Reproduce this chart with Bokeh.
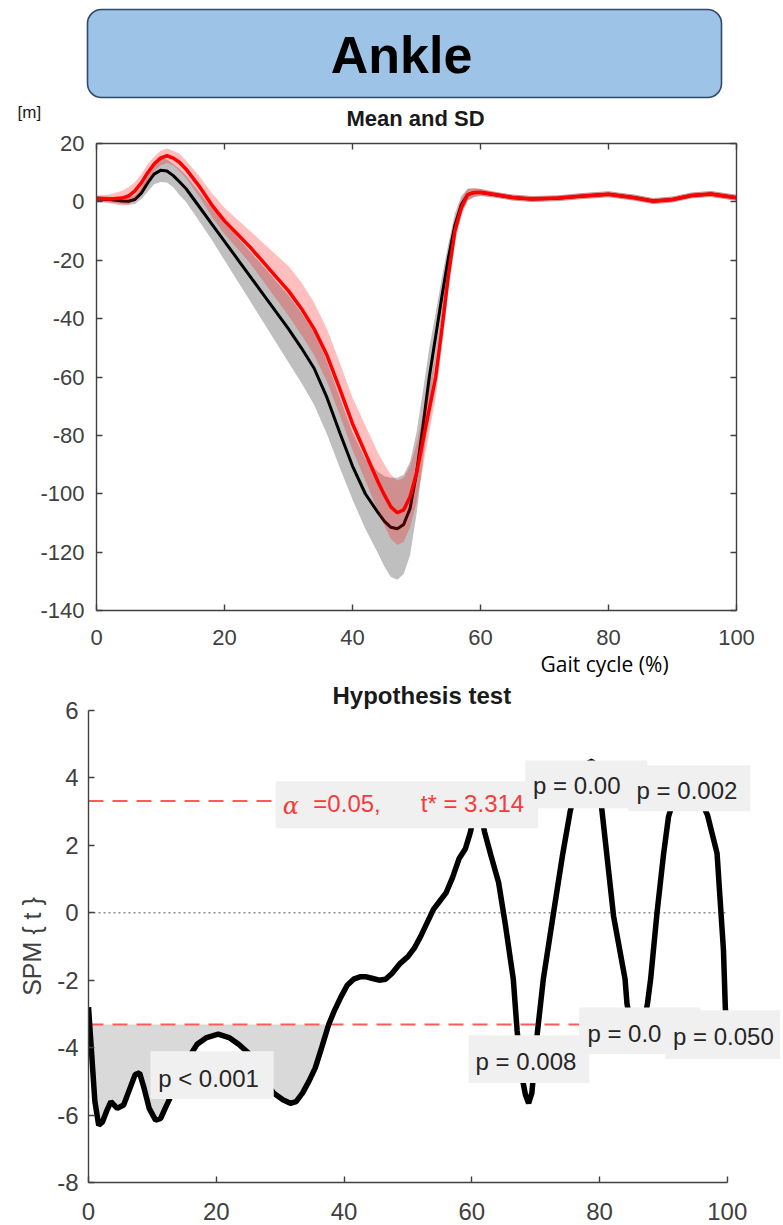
import numpy as np
from bokeh.plotting import figure
from bokeh.models import (Range1d, LinearAxis, Label, BoxAnnotation, Title,
                          CustomJSTickFormatter, FixedTicker)
from bokeh.embed import file_html
from bokeh.resources import INLINE
from bokeh.core.properties import value

# ---------------- data ----------------
x_ticks = [0, 20, 40, 60, 80, 100]
top_y_ticks = [-140, -120, -100, -80, -60, -40, -20, 0, 20]
bot_y_ticks = [-8, -6, -4, -2, 0, 2, 4, 6]

# gait cycle (%) for mean/SD curves
x_top = [0, 2, 4, 5, 6, 7, 8, 9, 10, 11, 12, 13, 14,
         16, 18, 20, 22, 24, 26, 28, 30, 32, 34, 36, 38, 40, 42, 44,
         45, 46, 47, 48, 49, 50, 51, 52, 53, 54, 55, 56, 57, 58, 59, 60,
         62, 65, 68, 72, 76, 80, 84, 87, 90, 93, 96, 100]

black_mean = [1.0, 0.8, 0.3, 0.2, 0.8, 3.0, 6.5, 9.5, 10.8, 10.6, 9.0, 6.8, 4.5,
              -1.5, -7.5, -13.5, -19.5, -25.5, -31.5, -37.5, -43.5, -50.0, -57.0, -67.0, -79.0, -90.5, -100.0, -106.5,
              -109.5, -111.5, -112.0, -110.5, -105.0, -93.0, -77.0, -60.0, -46.0, -32.0, -19.0, -8.0, -1.0, 2.5, 3.2, 3.2,
              2.5, 1.5, 1.0, 1.2, 2.0, 2.6, 1.5, 0.3, 0.8, 2.2, 2.7, 1.4]

black_sd = [1.0, 1.0, 1.0, 1.2, 1.5, 2.0, 3.0, 3.5, 4.0, 4.0, 4.0, 4.5, 4.5,
            5.0, 5.5, 6.5, 7.5, 8.5, 9.5, 10.5, 11.5, 12.0, 12.5, 12.5, 12.0, 11.5, 12.0, 14.0,
            15.5, 17.0, 17.5, 17.0, 16.0, 14.0, 12.0, 10.0, 8.0, 6.5, 5.0, 4.0, 3.0, 2.0, 1.5, 1.2,
            1.0, 1.0, 1.0, 1.0, 1.0, 1.0, 1.0, 1.0, 1.0, 1.0, 1.0, 1.0]

red_mean = [1.2, 1.0, 1.3, 2.0, 3.8, 6.5, 10.0, 13.0, 15.0, 15.8, 15.0, 13.5, 11.2,
            5.5, -1.0, -6.5, -11.0, -15.5, -20.5, -25.5, -30.5, -36.5, -43.5, -52.5, -64.0, -76.0, -86.0, -96.0,
            -100.5, -104.5, -106.5, -105.5, -101.0, -93.0, -82.0, -71.0, -60.0, -43.0, -25.0, -10.0, -2.0, 2.5, 3.2, 3.3,
            2.6, 1.5, 1.0, 1.3, 2.0, 2.6, 1.4, 0.2, 0.8, 2.2, 2.7, 1.4]

red_sd = [1.0, 1.5, 2.5, 3.0, 3.0, 3.0, 3.0, 2.5, 2.5, 2.5, 2.5, 3.0, 3.0,
          3.5, 4.0, 4.5, 5.0, 5.5, 6.5, 7.5, 8.5, 9.0, 9.0, 9.0, 9.0, 9.0, 9.5, 10.0,
          10.5, 11.0, 11.0, 11.0, 10.5, 10.0, 9.0, 8.0, 7.0, 6.0, 5.0, 4.0, 3.0, 2.0, 1.5, 1.2,
          1.0, 1.0, 1.0, 1.0, 1.0, 1.0, 1.0, 1.0, 1.0, 1.0, 1.0, 1.0]

# SPM{t} trajectory
x_spm = [0, 0.5, 1, 1.6, 2.2, 2.8, 3.5, 4.5, 5.5, 6.5, 7.3, 8, 8.7, 9.5, 10.5, 11.3, 12, 13,
         14, 15, 16, 17, 18.5, 20.3, 22, 23.5, 25, 26.5, 28, 29, 30.5, 31.6, 32.5, 33.5, 34.5,
         35.5, 36.5, 37.6, 38.5, 39.5, 40.5, 41.5, 42.5, 43.5, 44.5, 45.5, 46.5, 47.5, 48.8,
         50, 51, 52, 53, 54, 55, 56, 57, 58, 59, 59.8, 60.6, 61.4, 62, 63, 64.2, 65.3, 66.5,
         67.1, 67.8, 68.4, 68.9, 69.4, 70.3, 71.2, 72.8, 74.2, 75.4, 76.5, 77.8, 78.9, 79.8,
         80.4, 82.2, 84, 84.3, 85.2, 86, 86.8, 87.5, 88, 89, 90, 90.8, 92, 93.5, 95, 96.9,
         98.4, 99.4, 99.7, 100]
t_spm = [-2.8, -4.2, -5.6, -6.3, -6.2, -5.9, -5.6, -5.8, -5.7, -5.2, -4.8, -4.75, -5.2, -5.8,
         -6.15, -6.1, -5.8, -5.4, -5.0, -4.6, -4.2, -3.9, -3.7, -3.6, -3.7, -3.9, -4.15, -4.6,
         -5.1, -5.35, -5.55, -5.65, -5.6, -5.35, -5.0, -4.6, -4.0, -3.314, -2.9, -2.5, -2.15,
         -1.97, -1.9, -1.9, -1.95, -2.0, -1.97, -1.8, -1.5, -1.3, -1.05, -0.7, -0.3, 0.1, 0.35,
         0.6, 1.05, 1.6, 1.9, 2.4, 3.2, 3.0, 2.4, 1.7, 0.9, -0.4, -1.97, -3.5, -4.8, -5.4,
         -5.65, -5.35, -3.5, -1.97, 0.0, 1.7, 3.0, 3.9, 4.4, 4.5, 4.0, 3.0, -0.1, -1.97, -2.7,
         -3.6, -3.7, -3.4, -2.7, -1.97, 0.0, 1.7, 2.85, 3.6, 3.9, 3.7, 2.9, 1.76, -1.1, -2.85,
         -3.3]

t_star = 3.314
alpha_text = "=0.05,\u00a0\u00a0\u00a0\u00a0\u00a0\u00a0t* = 3.314"
x_limits = [0, 100]
cluster_end = 37.6
p_upper = ["p = 0.00", "p = 0.002"]
p_lower = ["p < 0.001", "p = 0.008", "p = 0.0", "p = 0.050"]

# ---------------- style ----------------
W = 783
FONT = "Liberation Sans"
AXC = "#404040"
RED_TXT = "#f53c3c"

blank = CustomJSTickFormatter(code="return ''")
plain = CustomJSTickFormatter(code="return String(tick)")


def style_axis(ax, size, standoff, fmt=None):
    ax.axis_line_color = AXC
    ax.axis_line_width = 1.4
    ax.major_tick_line_color = AXC
    ax.major_tick_line_width = 1.4
    ax.major_tick_in = 6
    ax.major_tick_out = 0
    ax.minor_tick_line_color = None
    ax.major_label_text_font = FONT
    ax.major_label_text_font_size = size
    ax.major_label_text_color = AXC
    ax.major_label_standoff = standoff
    if fmt is not None:
        ax.formatter = fmt


# ---------------- header (page pixel coordinates) ----------------
HH = 131
hdr = figure(width=W, height=HH, x_range=Range1d(0, W), y_range=Range1d(HH, 0),
             x_axis_type=None, y_axis_type=None, output_backend="svg",
             toolbar_location=None, min_border=0)
hdr.min_border_left = hdr.min_border_right = hdr.min_border_top = hdr.min_border_bottom = 0
hdr.outline_line_color = None
hdr.quad(left=[87], right=[721], top=[9], bottom=[97], fill_color="#9dc3e6",
         line_color="#2f4a6e", line_width=1.6, border_radius=14)
hdr.text(x=[401], y=[54], text=["Ankle"], text_align="center", text_baseline="middle",
         text_font=value(FONT), text_font_size=value("52px"), text_font_style="bold",
         text_color="black")
hdr.add_layout(Label(x=415, y=118, text="Mean and SD", text_align="center",
                     text_baseline="middle", text_font=FONT, text_font_size="22px",
                     text_font_style="bold", text_color="#1a1a1a"))
hdr.add_layout(Label(x=17, y=112, text="[m]", text_baseline="middle",
                     text_font=FONT, text_font_size="17px", text_color="#1a1a1a"))

# ---------------- top plot: mean and SD ----------------
top = figure(width=W, height=547, x_range=Range1d(0, 100), y_range=Range1d(-140, 20),
             output_backend="svg", toolbar_location=None,
             min_border_left=96, min_border_right=47, min_border_top=12, min_border_bottom=68)
top.grid.visible = False
top.outline_line_color = None
top.xaxis.ticker = FixedTicker(ticks=x_ticks)
top.yaxis.ticker = FixedTicker(ticks=top_y_ticks)
style_axis(top.xaxis[0], "22px", 19, plain)
style_axis(top.yaxis[0], "22px", 12, plain)
ax_up = LinearAxis(ticker=FixedTicker(ticks=x_ticks))
style_axis(ax_up, "1px", 0, blank)
top.add_layout(ax_up, "above")
ax_r = LinearAxis(ticker=FixedTicker(ticks=top_y_ticks))
style_axis(ax_r, "1px", 0, blank)
top.add_layout(ax_r, "right")
top.add_layout(Title(text="Gait cycle (%)", align="left", offset=444, standoff=1,
                     text_font="Open Sans", text_font_size="21px",
                     text_font_style="normal", text_color="black"), "below")

bm = np.array(black_mean); bs = np.array(black_sd)
rm = np.array(red_mean); rs = np.array(red_sd)
top.varea(x=x_top, y1=bm - bs, y2=bm + bs, fill_color="#bfbfbf", fill_alpha=1.0)
top.line(x_top, black_mean, line_color="black", line_width=3)
top.varea(x=x_top, y1=rm - rs, y2=rm + rs, fill_color="#ff0000", fill_alpha=0.25)
top.line(x_top, red_mean, line_color="#ff0000", line_width=3.5)

# ---------------- bottom plot: hypothesis test ----------------
bot = figure(width=W, height=547, x_range=Range1d(0, 108.8), y_range=Range1d(-8, 6),
             output_backend="svg", toolbar_location=None,
             min_border_left=88, min_border_right=0, min_border_top=30, min_border_bottom=43)
bot.title = Title(text="Hypothesis test", align="left", offset=244, standoff=3,
                  text_font=FONT, text_font_size="24px", text_font_style="bold",
                  text_color="#1a1a1a")
bot.grid.visible = False
bot.outline_line_color = None
bot.xaxis.ticker = FixedTicker(ticks=x_ticks)
bot.yaxis.ticker = FixedTicker(ticks=bot_y_ticks)
bot.xaxis.bounds = (0, 100)
style_axis(bot.xaxis[0], "24px", 20, plain)
style_axis(bot.yaxis[0], "24px", 10, plain)
bot.yaxis.axis_label = "SPM { t }"
bot.yaxis.axis_label_text_font = FONT
bot.yaxis.axis_label_text_font_size = "25px"
bot.yaxis.axis_label_text_font_style = "normal"
bot.yaxis.axis_label_text_color = AXC
bot.yaxis.axis_label_standoff = 8

xs = np.array(x_spm); ts = np.array(t_spm)
m = xs <= cluster_end
bot.varea(x=xs[m], y1=np.full(m.sum(), -t_star), y2=np.minimum(ts[m], -t_star),
          fill_color="#d9d9d9", fill_alpha=1.0)
bot.line(x_limits, [0, 0], line_color="#8c8c8c", line_width=1.6, line_dash="2 3")
bot.line(x_limits, [t_star, t_star], line_color="#ff5a5a", line_width=2, line_dash="15 9")
bot.line(x_limits, [-t_star, -t_star], line_color="#ff5a5a", line_width=2, line_dash="15 9")
bot.line(x_spm, t_spm, line_color="black", line_width=5.5)

BOX = "#f0f0f0"


def plabel(txt, box, tx, ty, color="#262626", font=FONT, style="normal"):
    if box is not None:
        l, r, t, b = box
        bot.add_layout(BoxAnnotation(left=l, right=r, top=t, bottom=b, fill_color=BOX,
                                     fill_alpha=1.0, line_color=None))
    bot.add_layout(Label(x=tx, y=ty, text=txt, text_align="left", text_baseline="middle",
                         text_font=font, text_font_size="24px", text_color=color,
                         text_font_style=style))


# threshold annotation
plabel("\u03b1", (29.3, 70.4, 3.90, 2.51), 30.4, 3.18, RED_TXT, "DejaVu Serif", "italic")
plabel(alpha_text, None, 35.2, 3.25, RED_TXT)
# upper clusters
plabel(p_upper[0], (68.4, 87.5, 4.52, 3.10), 69.6, 3.78)
plabel(p_upper[1], (84.5, 103.6, 4.37, 3.01), 85.8, 3.62)
# lower clusters
plabel(p_lower[0], (9.7, 29.0, -4.11, -5.52), 10.9, -4.93)
plabel(p_lower[1], (59.5, 78.4, -3.63, -5.05), 60.6, -4.40)
plabel(p_lower[2], (76.8, 95.8, -2.81, -4.19), 78.1, -3.57)
plabel(p_lower[3], (90.3, 108.3, -2.89, -4.34), 91.5, -3.67)

open("out.html", "w").write(file_html([hdr, top, bot], INLINE))
